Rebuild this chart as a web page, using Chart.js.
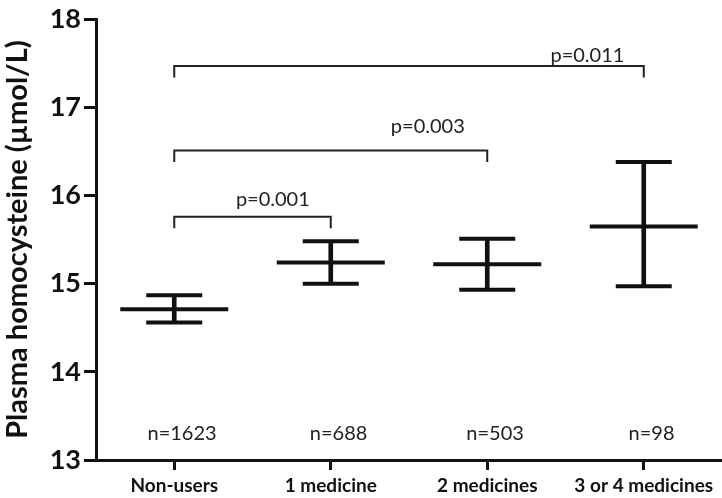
<!DOCTYPE html>
<html>
<head>
<meta charset="utf-8">
<script src="https://cdn.jsdelivr.net/npm/chart.js@4.4.1/dist/chart.umd.min.js"></script>
<style>
  html, body { margin: 0; background: #fff; }
  #wrap { width: 722px; height: 498px; position: relative; }
</style>
</head>
<body>
<div id="wrap"><canvas id="chart"></canvas></div>
<script>
const groups = ['Non-users', '1 medicine', '2 medicines', '3 or 4 medicines'];
const means = [14.71, 15.24, 15.22, 15.65];
const upper = [14.87, 15.48, 15.51, 16.38];
const lower = [14.56, 15.00, 14.93, 14.97];
const counts = ['n=1623', 'n=688', 'n=503', 'n=98'];
const yTicks = [13, 14, 15, 16, 17, 18];

// comparisons against non-users
const pFrom = [0, 0, 0];
const pTo = [1, 2, 3];
const pLevel = [15.76, 16.51, 17.47];
const pText = ['p=0.001', 'p=0.003', 'p=0.011'];
const pTextX = [0.63, 1.62, 2.64];
const pTextY = [15.95, 16.78, 17.59];

const ink = '#111';

const annotations = {
  id: 'annotations',
  afterDatasetsDraw(chart) {
    const { ctx, scales: { x, y } } = chart;
    ctx.save();
    ctx.strokeStyle = '#222';
    ctx.fillStyle = '#222';
    ctx.lineWidth = 2;
    ctx.font = '20px Lato';
    ctx.textAlign = 'center';
    ctx.textBaseline = 'middle';
    pLevel.forEach((lv, i) => {
      const x0 = x.getPixelForValue(pFrom[i]);
      const x1 = x.getPixelForValue(pTo[i]);
      const yt = y.getPixelForValue(lv);
      const yb = y.getPixelForValue(lv - 0.13);
      ctx.beginPath();
      ctx.moveTo(x0, yb);
      ctx.lineTo(x0, yt);
      ctx.lineTo(x1, yt);
      ctx.lineTo(x1, yb);
      ctx.stroke();
      ctx.fillText(pText[i], x.getPixelForValue(pTextX[i]), y.getPixelForValue(pTextY[i]));
    });
    counts.forEach((t, i) => {
      ctx.fillText(t, x.getPixelForValue(i + 0.05), y.getPixelForValue(13.3));
    });
    ctx.restore();
  }
};

const markStyle = { showLine: false, pointStyle: 'line', borderColor: ink, borderWidth: 4, pointHoverRadius: 0 };

new Chart(document.getElementById('chart'), {
  type: 'bar',
  data: {
    labels: groups,
    datasets: [
      { type: 'bar', data: groups.map((g, i) => [lower[i], upper[i]]), backgroundColor: ink, barThickness: 4 },
      { type: 'line', data: means, pointRadius: 54, ...markStyle },
      { type: 'line', data: upper, pointRadius: 28, ...markStyle },
      { type: 'line', data: lower, pointRadius: 28, ...markStyle }
    ]
  },
  options: {
    responsive: true,
    maintainAspectRatio: false,
    animation: false,
    devicePixelRatio: 1,
    layout: { autoPadding: false, padding: { top: 16, right: 0, left: 0, bottom: 0 } },
    plugins: { legend: { display: false }, tooltip: { enabled: false } },
    scales: {
      x: {
        grid: { offset: false, drawOnChartArea: false, tickLength: 10, tickWidth: 3, tickColor: ink },
        border: { color: ink, width: 3 },
        ticks: { color: ink, font: { family: 'Lato', size: 19, weight: 'bold' }, padding: 4, maxRotation: 0, autoSkip: false },
        afterFit(s) { s.height = 38; }
      },
      y: {
        min: 13,
        max: 18,
        afterBuildTicks(s) { s.ticks = yTicks.map(v => ({ value: v })); },
        grid: { drawOnChartArea: false, tickLength: 12, tickWidth: 3, tickColor: ink },
        border: { color: ink, width: 3 },
        ticks: { color: ink, font: { family: 'Lato', size: 27, weight: 'bold' }, padding: 3 },
        title: { display: true, text: 'Plasma homocysteine (µmol/L)', color: ink, font: { family: 'Lato', size: 29, weight: 'bold' }, padding: { top: 0, bottom: 2 } },
        afterFit(s) { s.width = 96; }
      }
    }
  },
  plugins: [annotations]
});
</script>
</body>
</html>
